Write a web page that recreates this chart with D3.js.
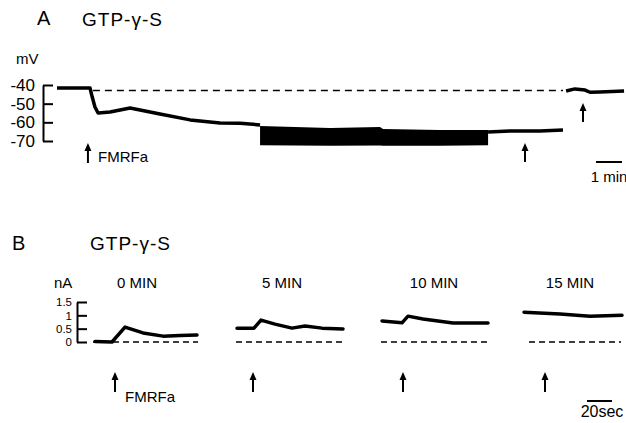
<!DOCTYPE html>
<html>
<head>
<meta charset="utf-8">
<script src="https://cdn.jsdelivr.net/npm/d3@7"></script>
<style>
  body { margin: 0; background: #fff; }
  svg { display: block; }
  text { font-family: "Liberation Sans", Arial, sans-serif; fill: #000; }
  .axis path, .axis line { stroke: #000; stroke-width: 2; }
  .axis text { font-family: "Liberation Sans", Arial, sans-serif; }
</style>
</head>
<body>
<div id="chart"></div>
<script>
/* panel A data : time in min, potential in mV */
var aTicks = [-40, -50, -60, -70];
var aTrace = [[0, -41.6], [1.27, -41.6], [1.35, -46.2], [1.46, -51.8], [1.58, -55], [2.04, -54.5],
  [2.81, -52.3], [3.96, -55.5], [5.12, -58.7], [6.27, -60.4], [7.04, -60.5], [7.81, -61.4]];
var aBlockTop = [[7.81, -62], [10.5, -63], [12.42, -62.5], [12.54, -63.6], [14.73, -64.1], [16.58, -64.1]];
var aBlockBottom = [[7.81, -72.3], [10.5, -72.6], [12.42, -72.4], [12.54, -72.6], [14.73, -72.5], [16.58, -72.3]];
var aAfter = [[16.58, -65.2], [17.42, -64.6], [18.58, -64.6], [19.46, -64.1]];
var aWash = [[19.58, -43.2], [19.92, -42.1], [20.31, -42.7], [20.5, -43.9], [20.88, -43.7], [21.81, -43.2]];
var aBaseline = [[1.38, -43], [19.46, -43]];
var aArrows = [1.19, 18.0, 20.23];

/* panel B data : time in s within each sweep, current in nA */
var bTicks = [0, 0.5, 1, 1.5];
var bTickLabels = ["0", "0.5", "1", "1.5"];
var sweepLabels = ["0 MIN", "5 MIN", "10 MIN", "15 MIN"];
var sweep0 = [[1.6, 0.02], [15.2, 0.0], [25.6, 0.56], [40, 0.34], [56, 0.22], [69.6, 0.24], [83.2, 0.26]];
var sweep5 = [[0.8, 0.52], [14.4, 0.52], [20, 0.82], [31.2, 0.67], [44.8, 0.52], [55.2, 0.6], [68.8, 0.52], [85.6, 0.49]];
var sweep10 = [[0.8, 0.79], [16.8, 0.72], [21.6, 0.97], [33.6, 0.86], [57.6, 0.71], [85.6, 0.71]];
var sweep15 = [[0.8, 1.12], [29.6, 1.05], [53.6, 0.97], [79.2, 1.0]];
var sweepDash = [[0, 84], [0, 86], [0, 86], [4.8, 78.4]];
var bArrows = [17.6, 13.6, 17.6, 17.6];

var width = 626, height = 423;
var svg = d3.select("#chart").append("svg").attr("width", width).attr("height", height);

function arrow(g, x, y0, y1) {
  g.append("line").attr("x1", x).attr("x2", x).attr("y1", y0 + 5).attr("y2", y1)
    .attr("stroke", "#000").attr("stroke-width", 2);
  g.append("path").attr("d", "M" + x + "," + y0 + "L" + (x - 3.5) + "," + (y0 + 8) + "L" + (x + 3.5) + "," + (y0 + 8) + "Z")
    .attr("fill", "#000");
}

/* ---------- panel A ---------- */
var xA = d3.scaleLinear().domain([0, 22]).range([57, 57 + 22 * 26]);
var yA = d3.scaleLinear().domain([-40, -70]).range([85, 141]);
var gA = svg.append("g");

gA.append("text").attr("x", 37).attr("y", 25).style("font-size", "20px").text("A");
gA.append("text").attr("x", 82).attr("y", 26).style("font-size", "19px").style("letter-spacing", "1px").text("GTP-γ-S");
gA.append("text").attr("x", 16).attr("y", 64).style("font-size", "15px").text("mV");

gA.append("g").attr("class", "axis").attr("transform", "translate(43,0)")
  .call(d3.axisLeft(yA).tickValues(aTicks).tickFormat(function(d) { return "-" + Math.abs(d); })
    .tickSizeInner(-10).tickSizeOuter(0).tickPadding(8))
  .call(function(g) { g.selectAll("text").style("font-size", "17px"); });

var lineA = d3.line().x(function(d) { return xA(d[0]); }).y(function(d) { return yA(d[1]); });

gA.append("path").attr("d", lineA(aBaseline)).attr("fill", "none").attr("stroke", "#000")
  .attr("stroke-width", 1.5).attr("stroke-dasharray", "7,5");

[aTrace, aAfter, aWash].forEach(function(seg) {
  gA.append("path").attr("d", lineA(seg)).attr("fill", "none").attr("stroke", "#000")
    .attr("stroke-width", 3.5).attr("stroke-linejoin", "round");
});

var blockArea = d3.area()
  .x(function(d, i) { return xA(d[0]); })
  .y0(function(d, i) { return yA(aBlockBottom[i][1]); })
  .y1(function(d) { return yA(d[1]); });
gA.append("path").attr("d", blockArea(aBlockTop)).attr("fill", "#000");

arrow(gA, xA(aArrows[0]), 143, 163);
arrow(gA, xA(aArrows[1]), 143, 162);
arrow(gA, xA(aArrows[2]), 103, 122);
gA.append("text").attr("x", 98).attr("y", 162).style("font-size", "15px").text("FMRFa");

gA.append("line").attr("x1", xA(20.73)).attr("x2", xA(21.73)).attr("y1", 162).attr("y2", 162)
  .attr("stroke", "#000").attr("stroke-width", 2);
gA.append("text").attr("x", xA(21.23)).attr("y", 182).attr("text-anchor", "middle").style("font-size", "15px").text("1 min");

/* ---------- panel B ---------- */
var gB = svg.append("g");
gB.append("text").attr("x", 12).attr("y", 250).style("font-size", "20px").text("B");
gB.append("text").attr("x", 90).attr("y", 250).style("font-size", "19px").style("letter-spacing", "1px").text("GTP-γ-S");
gB.append("text").attr("x", 54).attr("y", 288).style("font-size", "15px").text("nA");

var yB = d3.scaleLinear().domain([0, 1.5]).range([342, 302]);
gB.append("g").attr("class", "axis").attr("transform", "translate(77,0)")
  .call(d3.axisLeft(yB).tickValues(bTicks).tickFormat(function(d, i) { return bTickLabels[i]; })
    .tickSizeInner(-10).tickSizeOuter(0).tickPadding(5))
  .call(function(g) { g.selectAll("text").style("font-size", "11.5px"); });

var sweeps = [sweep0, sweep5, sweep10, sweep15];
var sweepX0 = [93, 236, 381, 523];
var labelX = [137, 282, 434, 570];

sweeps.forEach(function(data, i) {
  var xB = d3.scaleLinear().domain([0, 85]).range([sweepX0[i], sweepX0[i] + 106.25]);
  var lineB = d3.line().x(function(d) { return xB(d[0]); }).y(function(d) { return yB(d[1]); });
  gB.append("path").attr("d", lineB([[sweepDash[i][0], 0], [sweepDash[i][1], 0]]))
    .attr("fill", "none").attr("stroke", "#000").attr("stroke-width", 1.5).attr("stroke-dasharray", "6,4");
  gB.append("path").attr("d", lineB(data)).attr("fill", "none").attr("stroke", "#000")
    .attr("stroke-width", 3.5).attr("stroke-linejoin", "round").attr("stroke-linecap", "round");
  gB.append("text").attr("x", labelX[i]).attr("y", 288).attr("text-anchor", "middle")
    .style("font-size", "15px").text(sweepLabels[i]);
  arrow(gB, xB(bArrows[i]), 372, 392);
});
gB.append("text").attr("x", 125).attr("y", 402).style("font-size", "15px").text("FMRFa");

gB.append("line").attr("x1", 587).attr("x2", 612).attr("y1", 401).attr("y2", 401)
  .attr("stroke", "#000").attr("stroke-width", 2);
gB.append("text").attr("x", 602).attr("y", 417).attr("text-anchor", "middle").style("font-size", "16px").text("20sec");
</script>
</body>
</html>
